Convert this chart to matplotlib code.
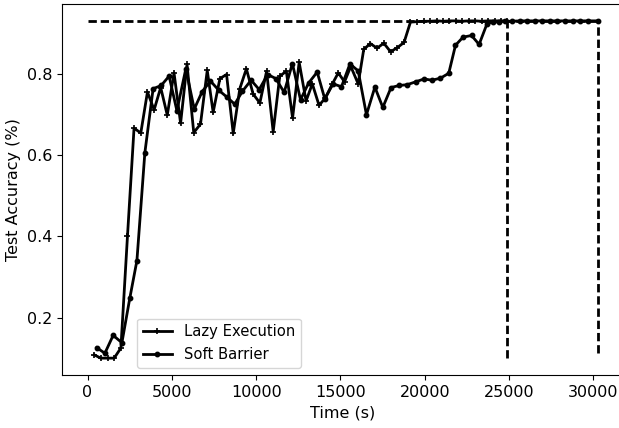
import matplotlib
matplotlib.use("Agg")
import matplotlib.pyplot as plt

# ---- data ----
lazy_time = [400, 790, 1190, 1580, 1980, 2370, 2760, 3160, 3555, 3950,
             4340, 4730, 5130, 5520, 5900, 6300, 6700, 7100, 7450, 7850,
             8245, 8640, 9030, 9420, 9820, 10220, 10620, 11010, 11400, 11790,
             12160, 12550, 12960, 13330, 13730, 14100, 14520, 14870, 15240, 15610,
             16050, 16380, 16770, 17170, 17570, 17970, 18370, 18770, 19150, 19550,
             19930, 20310, 20700, 21080, 21460, 21840, 22230, 22610, 22990, 23370,
             23760, 24140, 24520, 24900]
lazy_acc = [0.108, 0.100, 0.100, 0.100, 0.125, 0.400, 0.666, 0.654, 0.755, 0.711,
            0.766, 0.698, 0.802, 0.678, 0.823, 0.655, 0.676, 0.808, 0.705, 0.788,
            0.798, 0.653, 0.763, 0.812, 0.750, 0.728, 0.806, 0.657, 0.794, 0.806,
            0.691, 0.828, 0.733, 0.775, 0.722, 0.740, 0.775, 0.802, 0.780, 0.818,
            0.775, 0.860, 0.874, 0.863, 0.875, 0.854, 0.864, 0.877, 0.927, 0.928,
            0.929, 0.929, 0.930, 0.929, 0.930, 0.930, 0.929, 0.930, 0.930, 0.929,
            0.930, 0.930, 0.930, 0.930]

soft_time = [540, 1030, 1520, 2040, 2510, 2930, 3400, 3890, 4370, 4840,
             5300, 5830, 6330, 6800, 7290, 7790, 8250, 8730, 9190, 9700,
             10180, 10680, 11170, 11660, 12150, 12630, 13110, 13620, 14070, 14560,
             15060, 15560, 16050, 16540, 17040, 17510, 18000, 18490, 18960, 19460,
             19950, 20430, 20930, 21420, 21820, 22270, 22770, 23220, 23690, 24050,
             24420, 24770, 25160, 25630, 26060, 26520, 26920, 27410, 27810, 28300,
             28790, 29190, 29680, 30240]
soft_acc = [0.126, 0.112, 0.156, 0.138, 0.248, 0.340, 0.605, 0.763, 0.771, 0.794,
            0.709, 0.812, 0.713, 0.756, 0.782, 0.759, 0.743, 0.725, 0.757, 0.784,
            0.761, 0.798, 0.788, 0.754, 0.825, 0.736, 0.777, 0.804, 0.738, 0.775,
            0.768, 0.824, 0.807, 0.699, 0.767, 0.717, 0.766, 0.771, 0.773, 0.780,
            0.787, 0.784, 0.789, 0.801, 0.870, 0.890, 0.894, 0.872, 0.923, 0.927,
            0.928, 0.929, 0.929, 0.930, 0.930, 0.930, 0.930, 0.930, 0.930, 0.930,
            0.930, 0.930, 0.930, 0.930]

target_acc = 0.93
labels = ["Lazy Execution", "Soft Barrier"]
x_label = "Time (s)"
y_label = "Test Accuracy (%)"
x_ticks = [0, 5000, 10000, 15000, 20000, 25000, 30000]
y_ticks = [0.2, 0.4, 0.6, 0.8]

plt.rcParams["font.family"] = ["DejaVu Sans"]
plt.rcParams["font.size"] = 11.5

W, H = 619, 428
fig = plt.figure(figsize=(W / 100, H / 100), dpi=100)
ax = fig.add_axes([62 / W, (H - 375) / H, (623 - 62) / W, 371 / H])

ax.plot(lazy_time, lazy_acc, color="black", lw=2, marker="+", ms=5, mew=1.2,
        label=labels[0])
ax.plot(soft_time, soft_acc, color="black", lw=2, marker="o", ms=3.2,
        label=labels[1])

dash = (0, (3.0, 1.4))
ax.hlines(target_acc, 0, soft_time[-1], colors="black", linestyles=[dash], lw=2)
ax.vlines(lazy_time[-1], min(lazy_acc), target_acc, colors="black",
          linestyles=[dash], lw=2)
ax.vlines(soft_time[-1], min(soft_acc), target_acc, colors="black",
          linestyles=[dash], lw=2)

ax.spines["right"].set_visible(False)
ax.set_xticks(x_ticks)
ax.set_yticks(y_ticks)
ax.set_xlabel(x_label)
ax.set_ylabel(y_label)

ax.legend(loc="lower left", bbox_to_anchor=(0.133, 0.0197), borderaxespad=0,
          fontsize=10.6)

fig.savefig("out.png", dpi=100)
